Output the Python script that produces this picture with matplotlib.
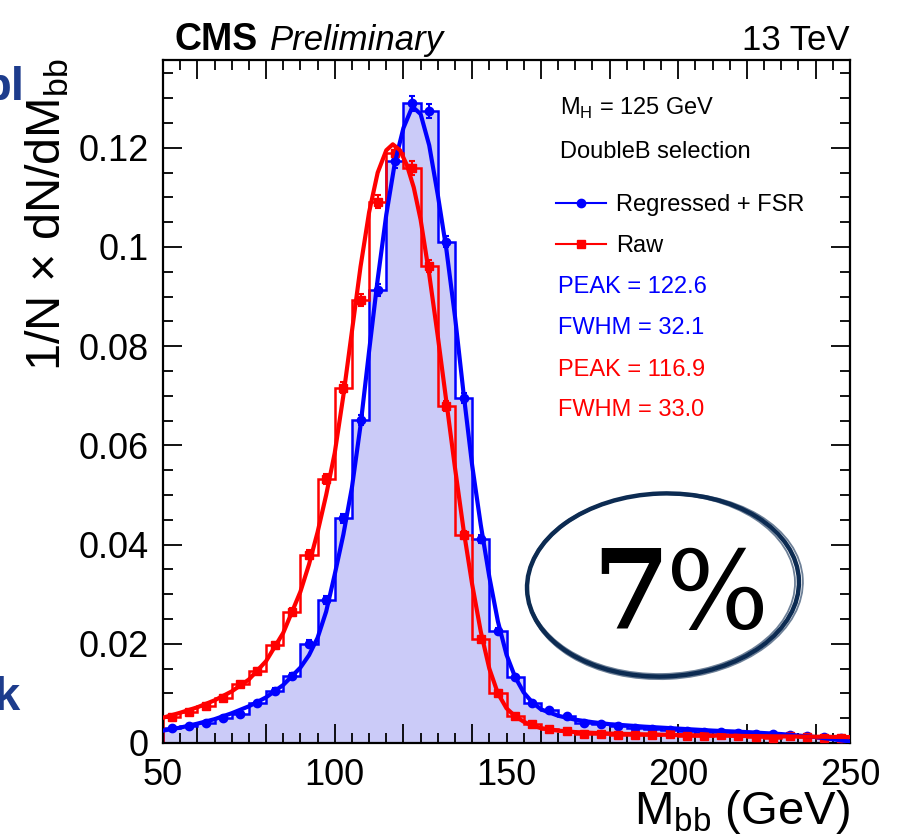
import numpy as np
import matplotlib
matplotlib.use("Agg")
import matplotlib.pyplot as plt
from matplotlib.patches import Ellipse
from matplotlib.lines import Line2D
from matplotlib.ticker import MultipleLocator, FixedLocator, NullFormatter

plt.rcParams['font.family'] = ['Liberation Sans', 'DejaVu Sans']
plt.rcParams['mathtext.fontset'] = 'custom'
plt.rcParams['mathtext.rm'] = 'Liberation Sans'

# 5 GeV bins from 50 to 250
edges = np.arange(50, 255, 5)
centers = edges[:-1] + 2.5

regressed = [0.0031, 0.0035, 0.0041, 0.0050, 0.0058, 0.0080, 0.0105, 0.0135, 0.0200, 0.0289,
             0.0453, 0.0652, 0.0914, 0.1173, 0.1290, 0.1275, 0.1011, 0.0695, 0.0412, 0.0225,
             0.0133, 0.0081, 0.0067, 0.0054, 0.0041, 0.0038, 0.0034, 0.0031, 0.0029, 0.0027,
             0.0025, 0.0023, 0.0022, 0.0021, 0.0019, 0.0018, 0.0017, 0.0015, 0.0012, 0.0011]
regressed_err = [0.0003, 0.0003, 0.0003, 0.0004, 0.0004, 0.0005, 0.0005, 0.0006, 0.0007, 0.0008,
                 0.0009, 0.0010, 0.0012, 0.0013, 0.0015, 0.0014, 0.0012, 0.0010, 0.0008, 0.0006,
                 0.0005, 0.0004, 0.0004, 0.0003, 0.0003, 0.0003, 0.0003, 0.0003, 0.0003, 0.0003,
                 0.0002, 0.0002, 0.0002, 0.0002, 0.0002, 0.0002, 0.0002, 0.0002, 0.0002, 0.0002]

raw = [0.0052, 0.0063, 0.0075, 0.0091, 0.0118, 0.0146, 0.0197, 0.0264, 0.0380, 0.0533,
       0.0716, 0.0893, 0.1091, 0.1189, 0.1159, 0.0962, 0.0680, 0.0419, 0.0210, 0.0101,
       0.0054, 0.0039, 0.0029, 0.0024, 0.0019, 0.0019, 0.0016, 0.0017, 0.0016, 0.0018,
       0.0015, 0.0015, 0.0016, 0.0014, 0.0013, 0.0011, 0.0014, 0.0013, 0.0010, 0.0010]
raw_err = [0.0004, 0.0004, 0.0004, 0.0005, 0.0005, 0.0006, 0.0007, 0.0008, 0.0009, 0.0010,
           0.0011, 0.0012, 0.0013, 0.0014, 0.0014, 0.0012, 0.0010, 0.0008, 0.0006, 0.0005,
           0.0004, 0.0003, 0.0003, 0.0003, 0.0003, 0.0003, 0.0002, 0.0002, 0.0002, 0.0002,
           0.0002, 0.0002, 0.0002, 0.0002, 0.0002, 0.0002, 0.0002, 0.0002, 0.0002, 0.0002]

# fitted curves
fit_reg_x = [50, 55, 60, 65, 70, 75, 80, 85, 90, 92.5, 95, 97.5, 100, 102.5, 105, 107.5, 110,
             112.5, 115, 117.5, 120, 122.6, 125, 127.5, 130, 132.5, 135, 137.5, 140, 142.5, 145,
             147.5, 150, 152.5, 155, 157.5, 160, 165, 170, 175, 180, 190, 200, 210, 220, 230, 240, 250]
fit_reg_y = [0.0025, 0.0031, 0.0039, 0.0048, 0.0060, 0.0074, 0.0092, 0.0117, 0.0152, 0.0177,
             0.0212, 0.0265, 0.0340, 0.0420, 0.0515, 0.0640, 0.0790, 0.0935, 0.1065, 0.1170,
             0.1240, 0.1283, 0.1268, 0.1205, 0.1105, 0.0995, 0.0860, 0.0705, 0.0560, 0.0440,
             0.0335, 0.0245, 0.0178, 0.0133, 0.0102, 0.0082, 0.0068, 0.0055, 0.0047, 0.0042,
             0.0038, 0.0033, 0.0029, 0.0025, 0.0022, 0.0018, 0.0012, 0.0003]

fit_raw_x = [50, 55, 60, 65, 70, 75, 80, 85, 90, 92.5, 95, 97.5, 100, 102.5, 105, 107.5, 110,
             112.5, 115, 116.9, 119, 121, 123, 125, 127.5, 130, 132.5, 135, 137.5, 140, 142.5,
             145, 147.5, 150, 152.5, 155, 157.5, 160, 165, 170, 180, 200, 220, 250]
fit_raw_y = [0.0051, 0.0061, 0.0072, 0.0086, 0.0104, 0.0128, 0.0165, 0.0222, 0.0305, 0.0360,
             0.0425, 0.0500, 0.0585, 0.0700, 0.0830, 0.0960, 0.1070, 0.1150, 0.1195, 0.1207,
             0.1195, 0.1165, 0.1120, 0.1055, 0.0945, 0.0820, 0.0688, 0.0555, 0.0430, 0.0320,
             0.0225, 0.0150, 0.0100, 0.0070, 0.0054, 0.0043, 0.0035, 0.0030, 0.0025, 0.0022,
             0.0019, 0.0016, 0.0014, 0.0012]

ytick_vals = [0, 0.02, 0.04, 0.06, 0.08, 0.1, 0.12]
ytick_text = ['0', '0.02', '0.04', '0.06', '0.08', '0.1', '0.12']
xlabel_vals = [50, 100, 150, 200, 250]

blue = '#0000ff'
red = '#ff0000'
fill = '#cbcbf8'
W, H = 901, 839

fig = plt.figure(figsize=(W / 100, H / 100), dpi=100)
ax = fig.add_axes([163 / W, 1 - 743 / H, (850 - 163) / W, (743 - 60) / H])

ax.stairs(regressed, edges, fill=True, color=fill, zorder=1)
ax.stairs(regressed, edges, color=blue, lw=1.8, zorder=2)
ax.stairs(raw, edges, color=red, lw=1.8, zorder=2)
ax.errorbar(centers, regressed, yerr=regressed_err, fmt='o', color=blue, ms=6,
            capsize=2.5, elinewidth=1.5, capthick=1.5, zorder=3)
ax.errorbar(centers, raw, yerr=raw_err, fmt='s', color=red, ms=6,
            capsize=2.5, elinewidth=1.5, capthick=1.5, zorder=3)
ax.plot(fit_reg_x, fit_reg_y, color=blue, lw=3, zorder=4)
ax.plot(fit_raw_x, fit_raw_y, color=red, lw=3, zorder=4)

ax.set_xlim(50, 250)
ax.set_ylim(0, 0.1377)

ax.xaxis.set_major_locator(FixedLocator(np.arange(60, 250, 20)))
ax.xaxis.set_major_formatter(NullFormatter())
ax.xaxis.set_minor_locator(MultipleLocator(5))
ax.set_yticks(ytick_vals)
ax.set_yticklabels(ytick_text)
ax.yaxis.set_minor_locator(MultipleLocator(0.005))
ax.tick_params(which='both', direction='in', top=True, right=True, width=1.3)
ax.tick_params(which='major', length=14, labelsize=26, pad=10)
ax.tick_params(which='minor', length=7)
for s in ax.spines.values():
    s.set_linewidth(1.6)

for v in xlabel_vals:
    ax.text(v, -0.022, str(v), transform=ax.get_xaxis_transform(),
            ha='center', va='top', fontsize=26)

# titles
fig.text(175 / W, 1 - 50 / H, 'CMS', fontsize=27, fontweight='bold', va='baseline')
fig.text(270 / W, 1 - 50 / H, 'Preliminary', fontsize=25, style='italic', va='baseline')
fig.text(849 / W, 1 - 50 / H, '13 TeV', fontsize=25, ha='right', va='baseline')
fig.text(47 / W, 1 - 58 / H, '1/N \u00d7 dN/dM$_{\\mathregular{bb}}$', fontsize=35,
         rotation=90, ha='center', va='top')
fig.text(850 / W, 1 - 824 / H, 'M$_{\\mathregular{bb}}$ (GeV)', fontsize=34,
         ha='right', va='baseline')

# legend block
fig.text(560 / W, 1 - 108 / H, 'M$_{\\mathregular{H}}$ = 125 GeV', fontsize=17, va='center')
fig.text(560 / W, 1 - 152 / H, 'DoubleB selection', fontsize=17, va='center')
handles = [Line2D([], [], color=blue, marker='o', ms=6, lw=1.5),
           Line2D([], [], color=red, marker='s', ms=6, lw=1.5)]
fig.legend(handles, ['Regressed + FSR', 'Raw'], loc='upper left',
           bbox_to_anchor=(556 / W, 1 - 194 / H), frameon=False, fontsize=17,
           handlelength=2.1, handletextpad=0.45, labelspacing=0.8,
           borderpad=0, borderaxespad=0, numpoints=1)
fig.text(558 / W, 1 - 287 / H, 'PEAK = 122.6', fontsize=17, color=blue, va='center')
fig.text(558 / W, 1 - 328 / H, 'FWHM = 32.1', fontsize=17, color=blue, va='center')
fig.text(558 / W, 1 - 370 / H, 'PEAK = 116.9', fontsize=17, color=red, va='center')
fig.text(558 / W, 1 - 410 / H, 'FWHM = 33.0', fontsize=17, color=red, va='center')

# hand drawn ellipse with 7%
for dx, dy, dw, dh, ang, lw, a in [(0, 0, 0, 0, 2, 3.2, 1.0),
                                   (0.02, -0.01, 0.04, 0.03, 3, 1.3, 0.6),
                                   (-0.02, 0.01, -0.04, -0.03, 1, 1.3, 0.6)]:
    fig.patches.append(Ellipse((6.63 + dx, (H - 585) / 100 + dy), 2.72 + dw, 1.83 + dh,
                               angle=ang, transform=fig.dpi_scale_trans, fill=False,
                               ec='#0c2b52', lw=lw, alpha=a))
fig.text(592 / W, 1 - 628 / H, '7', fontsize=80, family='DejaVu Serif',
         fontweight='bold', va='baseline')
fig.text(666 / W, 1 - 628 / H, '%', fontsize=78, family='DejaVu Serif', va='baseline')

# cut-off slide text on the left edge
fig.text(25 / W, 1 - 88 / H, 'bl', fontsize=34, fontweight='bold', color='#1d3c8c',
         ha='right', va='center')
fig.text(20 / W, 1 - 698 / H, 'k', fontsize=34, fontweight='bold', color='#1d3c8c',
         ha='right', va='center')

fig.savefig('out.png', dpi=100)
